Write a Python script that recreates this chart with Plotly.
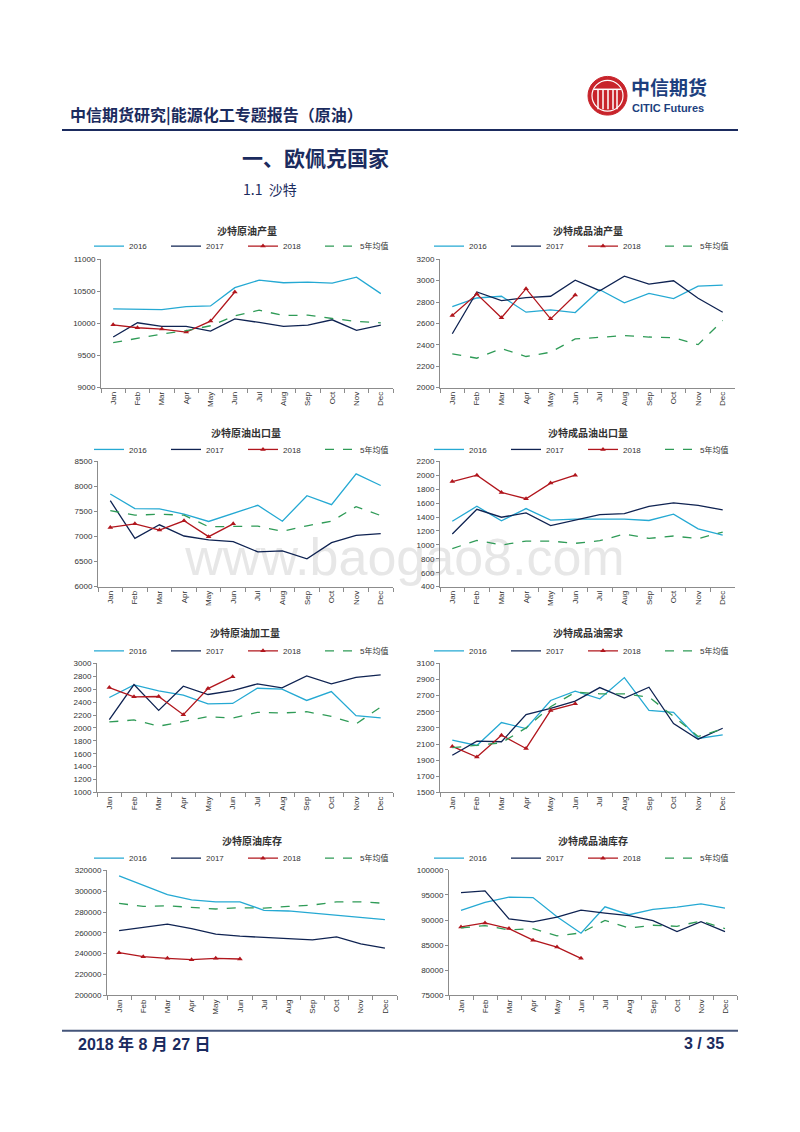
import plotly.graph_objects as go

W, H = 800, 1132

months = ["Jan", "Feb", "Mar", "Apr", "May", "Jun", "Jul", "Aug", "Sep", "Oct", "Nov", "Dec"]
series_names = ["2016", "2017", "2018", "5年均值"]

# 沙特原油产量
crude_prod_2016 = [10227, 10216, 10216, 10263, 10273, 10557, 10675, 10634, 10644, 10629, 10722, 10464]
crude_prod_2017 = [9789, 10010, 9954, 9954, 9881, 10072, 10015, 9954, 9974, 10057, 9892, 9974]
crude_prod_2018 = [9979, 9933, 9912, 9866, 10036, 10490]
crude_prod_avg = [9701, 9773, 9835, 9887, 9964, 10119, 10206, 10124, 10129, 10077, 10031, 10010]

# 沙特成品油产量
prod_out_2016 = [2758, 2838, 2854, 2705, 2727, 2702, 2915, 2792, 2881, 2832, 2949, 2959]
prod_out_2017 = [2504, 2894, 2813, 2841, 2854, 3005, 2906, 3042, 2968, 2999, 2835, 2705]
prod_out_2018 = [2674, 2875, 2653, 2925, 2643, 2866]
prod_out_avg = [2315, 2275, 2365, 2291, 2331, 2455, 2470, 2486, 2473, 2467, 2402, 2628]

# 沙特原油出口量
crude_exp_2016 = [7847, 7557, 7550, 7445, 7300, 7458, 7623, 7306, 7814, 7636, 8249, 8018]
crude_exp_2017 = [7715, 6963, 7234, 7010, 6931, 6898, 6693, 6712, 6554, 6878, 7023, 7056]
crude_exp_2018 = [7181, 7253, 7128, 7313, 6997, 7253]
crude_exp_avg = [7517, 7425, 7445, 7425, 7194, 7194, 7207, 7102, 7214, 7306, 7596, 7418]

# 沙特成品油出口量
prod_exp_2016 = [1340, 1554, 1345, 1521, 1355, 1369, 1369, 1369, 1350, 1440, 1231, 1141]
prod_exp_2017 = [1155, 1511, 1397, 1459, 1278, 1359, 1435, 1450, 1554, 1602, 1568, 1502]
prod_exp_2018 = [1910, 2001, 1754, 1663, 1887, 2001]
prod_exp_avg = [946, 1065, 998, 1055, 1055, 1022, 1060, 1155, 1093, 1127, 1089, 1184]

# 沙特原油加工量
crude_run_2016 = [2472, 2667, 2574, 2508, 2374, 2379, 2615, 2600, 2426, 2564, 2190, 2154]
crude_run_2017 = [2128, 2672, 2272, 2646, 2518, 2579, 2682, 2621, 2805, 2682, 2785, 2821]
crude_run_2018 = [2626, 2482, 2487, 2205, 2610, 2795]
crude_run_avg = [2092, 2123, 2026, 2103, 2174, 2154, 2241, 2231, 2251, 2179, 2062, 2323]

# 沙特成品油需求
prod_dem_2016 = [2148, 2082, 2366, 2292, 2640, 2755, 2661, 2924, 2517, 2493, 2169, 2214]
prod_dem_2017 = [1960, 2136, 2128, 2464, 2542, 2632, 2800, 2669, 2805, 2354, 2160, 2296]
prod_dem_2018 = [2070, 1939, 2209, 2045, 2517, 2599]
prod_dem_avg = [2054, 2087, 2115, 2300, 2562, 2743, 2723, 2723, 2682, 2444, 2193, 2288]

# 沙特原油库存
crude_stk_2016 = [314600, 305700, 296800, 291700, 289800, 289800, 281600, 281000, 279000, 276800, 274600, 272700]
crude_stk_2017 = [262200, 265100, 268300, 264100, 258700, 256800, 255600, 254300, 253300, 256200, 249500, 245400]
crude_stk_2018 = [241000, 237100, 235600, 234300, 235600, 234900]
crude_stk_avg = [288300, 285400, 286000, 284100, 282900, 284100, 283800, 285400, 286700, 289800, 289800, 288300]

# 沙特成品油库存
prod_stk_2016 = [91910, 93490, 94540, 94470, 90660, 87370, 92630, 91050, 92110, 92570, 93220, 92370]
prod_stk_2017 = [95460, 95790, 90200, 89610, 90590, 91970, 91380, 90860, 89870, 87700, 89670, 87700]
prod_stk_2018 = [88620, 89410, 88290, 85990, 84610, 82370]
prod_stk_avg = [88420, 88880, 88030, 88290, 86840, 87430, 89930, 88420, 88950, 88750, 89800, 88290]

chart_titles = ["沙特原油产量", "沙特成品油产量", "沙特原油出口量", "沙特成品油出口量",
                "沙特原油加工量", "沙特成品油需求", "沙特原油库存", "沙特成品油库存"]
chart_series = [
    [crude_prod_2016, crude_prod_2017, crude_prod_2018, crude_prod_avg],
    [prod_out_2016, prod_out_2017, prod_out_2018, prod_out_avg],
    [crude_exp_2016, crude_exp_2017, crude_exp_2018, crude_exp_avg],
    [prod_exp_2016, prod_exp_2017, prod_exp_2018, prod_exp_avg],
    [crude_run_2016, crude_run_2017, crude_run_2018, crude_run_avg],
    [prod_dem_2016, prod_dem_2017, prod_dem_2018, prod_dem_avg],
    [crude_stk_2016, crude_stk_2017, crude_stk_2018, crude_stk_avg],
    [prod_stk_2016, prod_stk_2017, prod_stk_2018, prod_stk_avg],
]
y_ranges = [(9000, 11000, 500), (2000, 3200, 200), (6000, 8500, 500), (400, 2200, 200),
            (1000, 3000, 200), (1500, 3100, 200), (200000, 320000, 20000), (75000, 100000, 5000)]

# layout geometry in page pixels: (x0, x1, ytop, ybottom, title_y, legend_y, legend_x)
boxes = [
    (101, 393, 257.3, 386.7, 228, 244, 97),
    (440, 735, 257.3, 386.7, 228, 244, 437),
    (98, 393, 461, 587.3, 432, 449, 97),
    (440, 735, 461, 587.3, 432, 449, 437),
    (97, 393, 664.7, 794.7, 634, 652, 97),
    (440, 735, 664.7, 794.7, 634, 652, 437),
    (107, 397, 873.3, 999.3, 843, 861, 97),
    (449, 737, 872.7, 999.3, 843, 861, 437),
]

colors = ["#25a9d3", "#0f2352", "#b1161d", "#2f9b57"]
FONT = "Liberation Sans, Noto Sans CJK SC, Arial, sans-serif"
CJK = "Noto Sans CJK SC, sans-serif"
NAVY = "#1b2b5e"


def px(v):
    return v / W


def py(v):
    return 1 - v / H


fig = go.Figure()
layout = dict(
    width=W, height=H, margin=dict(l=0, r=0, t=0, b=0),
    paper_bgcolor="white", plot_bgcolor="white",
    font=dict(family=FONT, color="#333333", size=8),
    annotations=[], shapes=[],
)

for i in range(8):
    sfx = "" if i == 0 else str(i + 1)
    xa, ya = "x" + sfx, "y" + sfx
    leg = "legend" + sfx
    x0, x1, yt, yb, ty, ly, lx = boxes[i]
    lo, hi, dt = y_ranges[i]
    for k, vals in enumerate(chart_series[i]):
        tr = dict(
            x=months[:len(vals)], y=vals, name=series_names[k], xaxis=xa, yaxis=ya,
            legend=leg, mode="lines", line=dict(color=colors[k], width=1.3),
            hoverinfo="skip",
        )
        if k == 2:
            tr["mode"] = "lines+markers"
            tr["marker"] = dict(symbol="triangle-up", size=5, color=colors[k])
        if k == 3:
            tr["line"] = dict(color=colors[k], width=1.3, dash="dash")
        fig.add_trace(go.Scatter(**tr))
    layout["xaxis" + sfx] = dict(
        domain=[px(x0), px(x1)], anchor=ya, type="category",
        categoryorder="array", categoryarray=months, range=[-0.5, 11.5],
        tickson="boundaries", ticks="outside", ticklen=4, tickcolor="#8c8c8c",
        showline=True, linecolor="#8c8c8c", linewidth=1, showgrid=False,
        tickangle=-90, tickfont=dict(size=8, color="#333333"), fixedrange=True,
    )
    layout["yaxis" + sfx] = dict(
        domain=[py(yb), py(yt)], anchor=xa, range=[lo, hi], dtick=dt, tick0=lo,
        ticks="outside", ticklen=3, tickcolor="#8c8c8c", showline=True,
        linecolor="#8c8c8c", linewidth=1, showgrid=False, zeroline=False,
        tickformat="d", tickfont=dict(size=8, color="#333333"), fixedrange=True,
    )
    layout[leg] = dict(
        orientation="h", x=px(lx - 8), y=py(ly), xanchor="left", yanchor="middle",
        font=dict(size=8, color="#333333", family=FONT), itemwidth=30,
        entrywidth=32, bgcolor="rgba(0,0,0,0)", borderwidth=0, tracegroupgap=0,
    )
    layout["annotations"].append(dict(
        text="<b>" + chart_titles[i] + "</b>", x=px((x0 + x1) / 2), y=py(ty),
        xref="paper", yref="paper", showarrow=False, xanchor="center", yanchor="middle",
        font=dict(size=10, color="#333333", family=CJK),
    ))

# header / footer
layout["shapes"] += [
    dict(type="line", xref="paper", yref="paper", x0=px(62), x1=px(738), y0=py(127), y1=py(127),
         line=dict(color=NAVY, width=2)),
    dict(type="line", xref="paper", yref="paper", x0=px(62), x1=px(738), y0=py(1035), y1=py(1035),
         line=dict(color="#44557a", width=2)),
    # logo
    dict(type="circle", xref="paper", yref="paper", x0=px(588), x1=px(627), y0=py(112), y1=py(73),
         fillcolor="#c8242b", line=dict(color="#c8242b", width=1)),
    dict(type="circle", xref="paper", yref="paper", x0=px(592), x1=px(623), y0=py(108), y1=py(77),
         fillcolor="rgba(0,0,0,0)", line=dict(color="white", width=1.2)),
    dict(type="line", xref="paper", yref="paper", x0=px(594), x1=px(621), y0=py(86), y1=py(86),
         line=dict(color="white", width=1.5)),
]
for bx in (598, 603, 608, 613, 617):
    layout["shapes"].append(dict(type="line", xref="paper", yref="paper", x0=px(bx), x1=px(bx),
                                 y0=py(86), y1=py(106), line=dict(color="white", width=1.5)))

# watermark (below the lines)
layout["shapes"].append(dict(
    type="rect", xref="paper", yref="paper", x0=px(180), x1=px(630), y0=py(580), y1=py(525),
    line=dict(width=0), fillcolor="rgba(0,0,0,0)", layer="below",
    label=dict(text="www.baogao8.com", textposition="middle center",
               font=dict(size=52, color="#e7e7e7", family="Liberation Sans, Arial")),
))

layout["annotations"] += [
    dict(text="<b>中信期货研究|能源化工专题报告（原油）</b>", x=px(68), y=py(111), xref="paper", yref="paper",
         showarrow=False, xanchor="left", yanchor="middle", font=dict(size=16, color=NAVY, family=CJK)),
    dict(text="<b>中信期货</b>", x=px(629), y=py(83), xref="paper", yref="paper",
         showarrow=False, xanchor="left", yanchor="middle", font=dict(size=19, color="#1d3f7e", family=CJK)),
    dict(text="<b>CITIC Futures</b>", x=px(630), y=py(105), xref="paper", yref="paper",
         showarrow=False, xanchor="left", yanchor="middle", font=dict(size=11, color="#1d3f7e", family=FONT)),
    dict(text="<b>一、欧佩克国家</b>", x=px(240), y=py(154), xref="paper", yref="paper",
         showarrow=False, xanchor="left", yanchor="middle", font=dict(size=21, color=NAVY, family=CJK)),
    dict(text="1.1  沙特", x=px(241), y=py(186), xref="paper", yref="paper",
         showarrow=False, xanchor="left", yanchor="middle", font=dict(size=14, color=NAVY, family=CJK)),
    dict(text="<b>2018 年 8 月 27 日</b>", x=px(76), y=py(1048), xref="paper", yref="paper",
         showarrow=False, xanchor="left", yanchor="middle", font=dict(size=16, color=NAVY, family=FONT)),
    dict(text="<b>3 / 35</b>", x=px(726), y=py(1048), xref="paper", yref="paper",
         showarrow=False, xanchor="right", yanchor="middle", font=dict(size=16, color=NAVY, family=FONT)),
]

fig.update_layout(**layout)
fig.write_html(
    "out.html",
    config={"displayModeBar": False, "staticPlot": False},
    post_script="document.body.style.margin='0';document.body.style.overflow='hidden';",
)
